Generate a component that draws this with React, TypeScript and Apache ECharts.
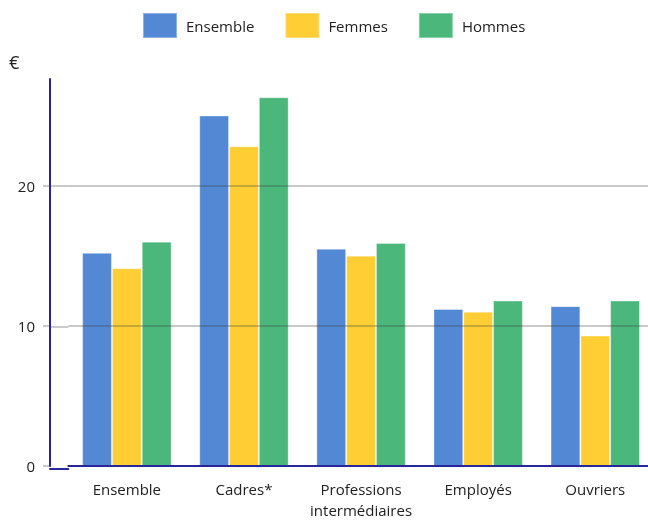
import React, { useEffect, useRef } from "react";
import * as echarts from "echarts";

const categories = ["Ensemble", "Cadres*", "Professions\nintermédiaires", "Employés", "Ouvriers"];
const seriesNames = ["Ensemble", "Femmes", "Hommes"];
const ensembleValues = [15.2, 25.0, 15.5, 11.2, 11.4];
const femmesValues = [14.1, 22.8, 15.0, 11.0, 9.3];
const hommesValues = [16.0, 26.3, 15.9, 11.8, 11.8];
const yTicks = [0, 10, 20];
const colors = ["#5389D4", "#FFCD34", "#4BB77A"];

const FONT = "'Open Sans', sans-serif";
const NAVY = "#27279a";
const GRIDLINE = "rgba(60,60,60,0.28)";

export default function App() {
  const ref = useRef<HTMLDivElement>(null);
  useEffect(() => {
    if (!ref.current) return;
    const chart = echarts.init(ref.current, null, { renderer: "svg" });
    const yMax = 27.6;
    const values = [ensembleValues, femmesValues, hommesValues];
    chart.setOption({
      animation: false,
      textStyle: { fontFamily: FONT },
      legend: {
        left: 142,
        top: 12,
        padding: 0,
        itemWidth: 34,
        itemHeight: 25,
        itemGap: 30,
        icon: "rect",
        textStyle: { fontSize: 15, color: "#222", fontFamily: FONT, padding: [0, 0, 0, 4] },
        data: seriesNames,
      },
      graphic: [
        {
          type: "text",
          left: 9,
          top: 53,
          style: { text: "€", fontSize: 18, fill: "#222", fontFamily: FONT },
        },
      ],
      grid: [
        { left: 68.3, width: 585.5, top: 79, bottom: 51.7, containLabel: false },
        { left: 50, width: 18.3, top: 79, bottom: 51.7, containLabel: false },
      ],
      xAxis: [
        {
          type: "category",
          gridIndex: 0,
          data: categories,
          axisLine: { show: true, lineStyle: { color: NAVY, width: 2 } },
          axisTick: { show: false },
          axisLabel: {
            interval: 0,
            fontSize: 15,
            lineHeight: 21,
            margin: 12,
            color: "#222",
            fontFamily: FONT,
          },
          z: 4,
        },
        {
          type: "value",
          gridIndex: 1,
          min: 0,
          max: 1,
          axisLine: { show: true, onZero: false, lineStyle: { color: NAVY, width: 2 } },
          axisTick: { show: false },
          axisLabel: { show: false },
          splitLine: { show: false },
          z: 4,
        },
      ],
      yAxis: [
        {
          type: "value",
          gridIndex: 0,
          min: 0,
          max: yMax,
          interval: 10,
          offset: 18.3,
          z: 3,
          axisLine: { show: true, lineStyle: { color: NAVY, width: 2 } },
          axisTick: {
            show: true,
            length: 7,
            customValues: yTicks,
            lineStyle: { color: GRIDLINE, width: 2 },
          },
          axisLabel: {
            customValues: yTicks,
            fontSize: 15,
            margin: 15,
            color: "#222",
            fontFamily: FONT,
          },
          splitLine: { show: true, showMaxLine: true, showMinLine: false, lineStyle: { color: GRIDLINE, width: 2 } },
        },
        {
          type: "value",
          gridIndex: 1,
          min: 0,
          max: yMax,
          interval: 10,
          z: 3,
          axisLine: { show: false },
          axisTick: { show: false, customValues: yTicks },
          axisLabel: { show: false },
          splitLine: { show: true, showMaxLine: true, showMinLine: false, lineStyle: { color: GRIDLINE, width: 2 } },
        },
      ],
      series: seriesNames.map((name, i) => ({
        name,
        type: "bar",
        xAxisIndex: 0,
        yAxisIndex: 0,
        data: values[i],
        barGap: "0%",
        barWidth: 29.8,
        itemStyle: { color: colors[i], borderColor: "rgba(255,255,255,0.35)", borderWidth: 1 },
      })),
    });
    return () => chart.dispose();
  }, []);
  return (
    <div
      style={{ position: "fixed", left: 0, top: 0, width: 648, height: 520, overflow: "hidden" }}
    >
      <div ref={ref} style={{ width: 660, height: 520 }} />
    </div>
  );
}
